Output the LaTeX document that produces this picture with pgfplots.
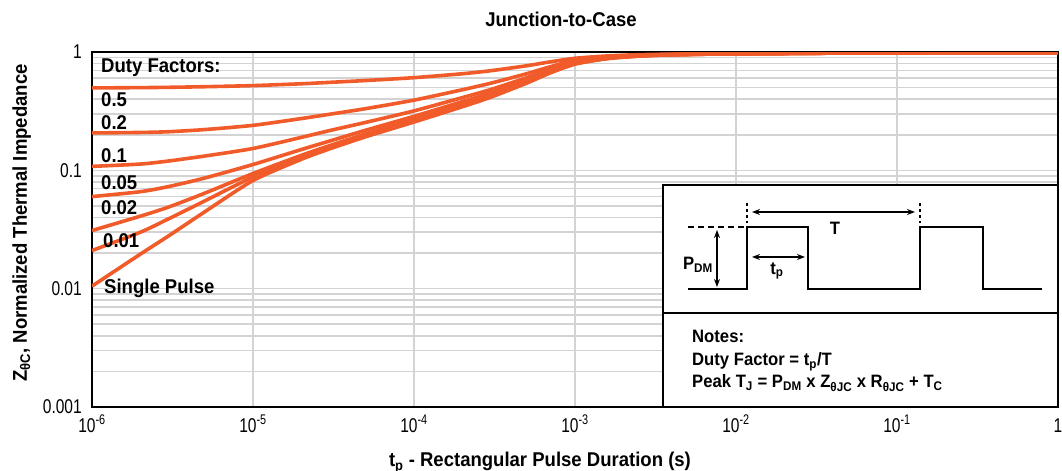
\documentclass[border=0pt]{standalone}
\usepackage{fontspec}
\setmainfont{Liberation Sans}[FakeStretch=0.93]
\newfontfamily\tickfont{Liberation Sans}[FakeStretch=0.78]
\usepackage{pgfplots}
\pgfplotsset{compat=1.18}
\usetikzlibrary{arrows.meta}
\definecolor{curve}{HTML}{F15A29}
\definecolor{gridc}{HTML}{D3D3D3}
\tikzset{zcurve/.style={curve, line width=3.6bp, mark=none, smooth, tension=0.4}}

% Z_thetaJC for each duty factor
\pgfplotstableread{
t       single  d01    d02    d05    d1     d2     d5
1e-6    0.0105  0.021  0.031  0.060  0.108  0.207  0.497
2e-6    0.0196  0.030  0.041  0.066  0.113  0.209  0.500
3e-6    0.0280  0.039  0.049  0.073  0.120  0.212  0.503
5e-6    0.0445  0.055  0.064  0.086  0.132  0.221  0.509
1e-5    0.082   0.088  0.094  0.112  0.153  0.240  0.520
2e-5    0.124   0.129  0.134  0.150  0.190  0.274  0.539
3e-5    0.152   0.157  0.162  0.177  0.217  0.298  0.554
5e-5    0.192   0.198  0.203  0.218  0.254  0.332  0.574
1e-4    0.256   0.263  0.270  0.286  0.318  0.392  0.607
2e-4    0.345   0.354  0.363  0.381  0.412  0.480  0.655
3e-4    0.415   0.424  0.434  0.452  0.482  0.545  0.695
5e-4    0.545   0.553  0.562  0.580  0.606  0.655  0.765
7e-4    0.665   0.672  0.680  0.694  0.714  0.750  0.825
1e-3    0.790   0.795  0.800  0.810  0.825  0.850  0.885
1.5e-3  0.870   0.873  0.876  0.882  0.890  0.903  0.922
2e-3    0.905   0.907  0.909  0.913  0.918  0.926  0.940
3e-3    0.935   0.936  0.937  0.939  0.942  0.946  0.954
5e-3    0.952   0.953  0.953  0.955  0.956  0.958  0.962
1e-2    0.965   0.965  0.966  0.966  0.967  0.968  0.970
1e-1    0.985   0.985  0.985  0.985  0.985  0.985  0.985
1       0.990   0.990  0.990  0.990  0.990  0.990  0.990
}\zth

\begin{document}
\begin{tikzpicture}
\useasboundingbox (-92bp,-64bp) rectangle (970bp,407bp);
\begin{axis}[
    scale only axis,
    width=966bp, height=355bp,
    xmode=log, ymode=log,
    xmin=1e-6, xmax=1, ymin=1e-3, ymax=1,
    xtick={1e-6,1e-5,1e-4,1e-3,1e-2,1e-1,1},
    xticklabels={10\textsuperscript{-6},10\textsuperscript{-5},10\textsuperscript{-4},10\textsuperscript{-3},10\textsuperscript{-2},10\textsuperscript{-1},1},
    ytick={1e-3,1e-2,1e-1,1},
    yticklabels={0.001,0.01,0.1,1},
    minor ytick={2e-3,3e-3,4e-3,5e-3,6e-3,7e-3,8e-3,9e-3,2e-2,3e-2,4e-2,5e-2,6e-2,7e-2,8e-2,9e-2,0.2,0.3,0.4,0.5,0.6,0.7,0.8,0.9},
    minor xtick={},
    major tick length=0pt, minor tick length=0pt,
    xmajorgrids, ymajorgrids, yminorgrids,
    major grid style={gridc, line width=1.6bp},
    minor grid style={gridc, line width=1.6bp},
    axis line style={line width=2.4bp},
    tick label style={font=\tickfont\fontsize{20}{24}\selectfont, inner sep=0pt},
    xticklabel style={anchor=base, yshift=-25bp},
    yticklabel style={anchor=east, xshift=-10bp},
]
\addplot[zcurve] table[x=t, y=single] {\zth};
\addplot[zcurve] table[x=t, y=d01] {\zth};
\addplot[zcurve] table[x=t, y=d02] {\zth};
\addplot[zcurve] table[x=t, y=d05] {\zth};
\addplot[zcurve] table[x=t, y=d1] {\zth};
\addplot[zcurve] table[x=t, y=d2] {\zth};
\addplot[zcurve] table[x=t, y=d5] {\zth};
\end{axis}

\begin{scope}[x=1bp, y=-1bp, shift={(-92bp,407bp)}]
  % titles
  \node[font=\bfseries\fontsize{20}{24}\selectfont, anchor=base] at (561,27) {Junction-to-Case};
  \node[font=\bfseries\fontsize{20}{24}\selectfont, anchor=base] at (540,467) {t\textsubscript{p} - Rectangular Pulse Duration (s)};
  \node[font=\bfseries\fontsize{20}{24}\selectfont, rotate=90, anchor=base] at (27,223) {Z\textsubscript{θC}, Normalized Thermal Impedance};
  % curve labels
  \begin{scope}[every node/.style={font=\bfseries\fontsize{20}{24}\selectfont, anchor=base west, inner sep=0pt}]
    \node at (101,73) {Duty Factors:};
    \node at (101,107) {0.5};
    \node at (101,130) {0.2};
    \node at (101,163) {0.1};
    \node at (101,190) {0.05};
    \node at (101,215) {0.02};
    \node at (103,248) {0.01};
    \node at (104,294) {Single Pulse};
  \end{scope}
  % inset
  \draw[line width=2bp, fill=white] (663,185) rectangle (1058,407);
  \draw[line width=2bp] (663,313) -- (1058,313);
  \draw[line width=1.8bp] (688,289) -- (747,289) -- (747,227) -- (808,227) -- (808,289)
     -- (920,289) -- (920,227) -- (983,227) -- (983,289) -- (1042,289);
  \draw[line width=1.6bp, dash pattern=on 6bp off 4bp] (688,227) -- (744,227);
  \draw[line width=1.6bp, dash pattern=on 3bp off 3bp] (747,203) -- (747,223);
  \draw[line width=1.6bp, dash pattern=on 3bp off 3bp] (920,203) -- (920,223);
  \draw[line width=1.4bp, {Stealth[length=8bp,width=6bp]}-{Stealth[length=8bp,width=6bp]}] (752,212) -- (915,212);
  \draw[line width=1.4bp, {Stealth[length=8bp,width=6bp]}-{Stealth[length=8bp,width=6bp]}] (717,230) -- (717,287);
  \draw[line width=1.4bp, {Stealth[length=8bp,width=6bp]}-{Stealth[length=8bp,width=6bp]}] (752,257) -- (805,257);
  \begin{scope}[every node/.style={font=\bfseries\fontsize{18}{22}\selectfont, inner sep=0pt}]
    \node at (835,228) {T};
    \node at (698,265) {P\textsubscript{DM}};
    \node at (777,271) {t\textsubscript{p}};
    \node[anchor=base west] at (692,343) {Notes:};
    \node[anchor=base west] at (692,366) {Duty Factor = t\textsubscript{p}/T};
    \node[anchor=base west] at (692,388) {Peak T\textsubscript{J} = P\textsubscript{DM} x Z\textsubscript{θJC} x R\textsubscript{θJC} + T\textsubscript{C}};
  \end{scope}
\end{scope}
\end{tikzpicture}
\end{document}
